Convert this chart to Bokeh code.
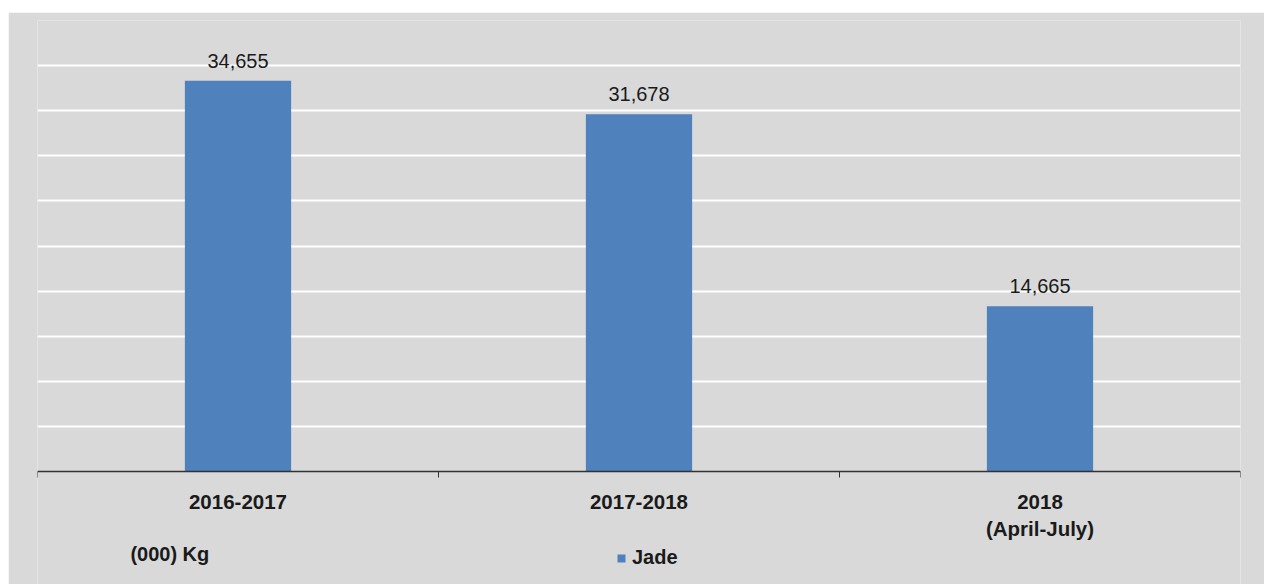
from bokeh.plotting import figure
from bokeh.models import (ColumnDataSource, FixedTicker, Range1d, Label, Legend, LegendItem)
from bokeh.embed import file_html
from bokeh.resources import INLINE

categories = ["2016-2017", "2017-2018", "2018\n(April-July)"]
values = [34655, 31678, 14665]
series_name = "Jade"
unit_label = "(000) Kg"
y_ticks = [4000, 8000, 12000, 16000, 20000, 24000, 28000, 32000, 36000]

BG = "#d9d9d9"
BAR = "#4f81bd"
FONT = "Liberation Sans"
TXT = "#1a1a1a"

xs = [i + 0.5 for i in range(len(categories))]
src = ColumnDataSource(dict(x=xs, top=values,
                            lbl=[f"{v:,}" for v in values]))

# frame extends below zero so the caption and legend sit inside it;
# the x axis is pinned at y=0
p = figure(width=1256, height=572, output_backend="svg", toolbar_location=None,
           x_range=Range1d(0, len(categories)), y_range=Range1d(-10020, 40000),
           min_border_left=29, min_border_right=24, min_border_top=8,
           min_border_bottom=0)
p.margin = (12, 0, 0, 8)
p.background_fill_color = BG
p.border_fill_color = BG
p.outline_line_color = None

r = p.vbar(x="x", top="top", bottom=0, width=0.265, source=src,
           fill_color=BAR, line_color=None)
p.text(x="x", y="top", text="lbl", source=src, text_align="center",
       text_baseline="alphabetic", y_offset=-20, text_font_size="20px",
       text_color=TXT, text_font={"value": FONT})

p.yaxis.visible = False
p.yaxis.ticker = FixedTicker(ticks=y_ticks)
p.ygrid.ticker = FixedTicker(ticks=y_ticks)
p.ygrid.grid_line_color = "white"
p.ygrid.grid_line_width = 2
p.xgrid.visible = False

xa = p.xaxis[0]
xa.fixed_location = 0
xa.ticker = FixedTicker(ticks=xs, minor_ticks=list(range(len(categories) + 1)))
xa.major_label_overrides = {x: c for x, c in zip(xs, categories)}
xa.major_tick_line_color = None
xa.minor_tick_line_color = "#333333"
xa.minor_tick_in = 0
xa.minor_tick_out = 6
xa.axis_line_color = "#333333"
xa.axis_line_width = 1.5
xa.major_label_standoff = 12
xa.major_label_text_font = FONT
xa.major_label_text_font_style = "bold"
xa.major_label_text_font_size = "20.5px"
xa.major_label_text_color = TXT

p.add_layout(Label(x=0.33, y=-7300, text=unit_label, text_align="center",
                   text_baseline="middle", text_font=FONT, text_font_style="bold",
                   text_font_size="20px", text_color=TXT))

legend = Legend(items=[LegendItem(label=series_name, renderers=[r])],
                location=(579, 15), orientation="horizontal",
                background_fill_alpha=0, border_line_color=None,
                padding=0, margin=0, glyph_width=10, glyph_height=10,
                label_text_font=FONT, label_text_font_style="bold",
                label_text_font_size="20px", label_text_color=TXT,
                label_standoff=6)
p.add_layout(legend)

open("out.html", "w").write(file_html(p, INLINE))
